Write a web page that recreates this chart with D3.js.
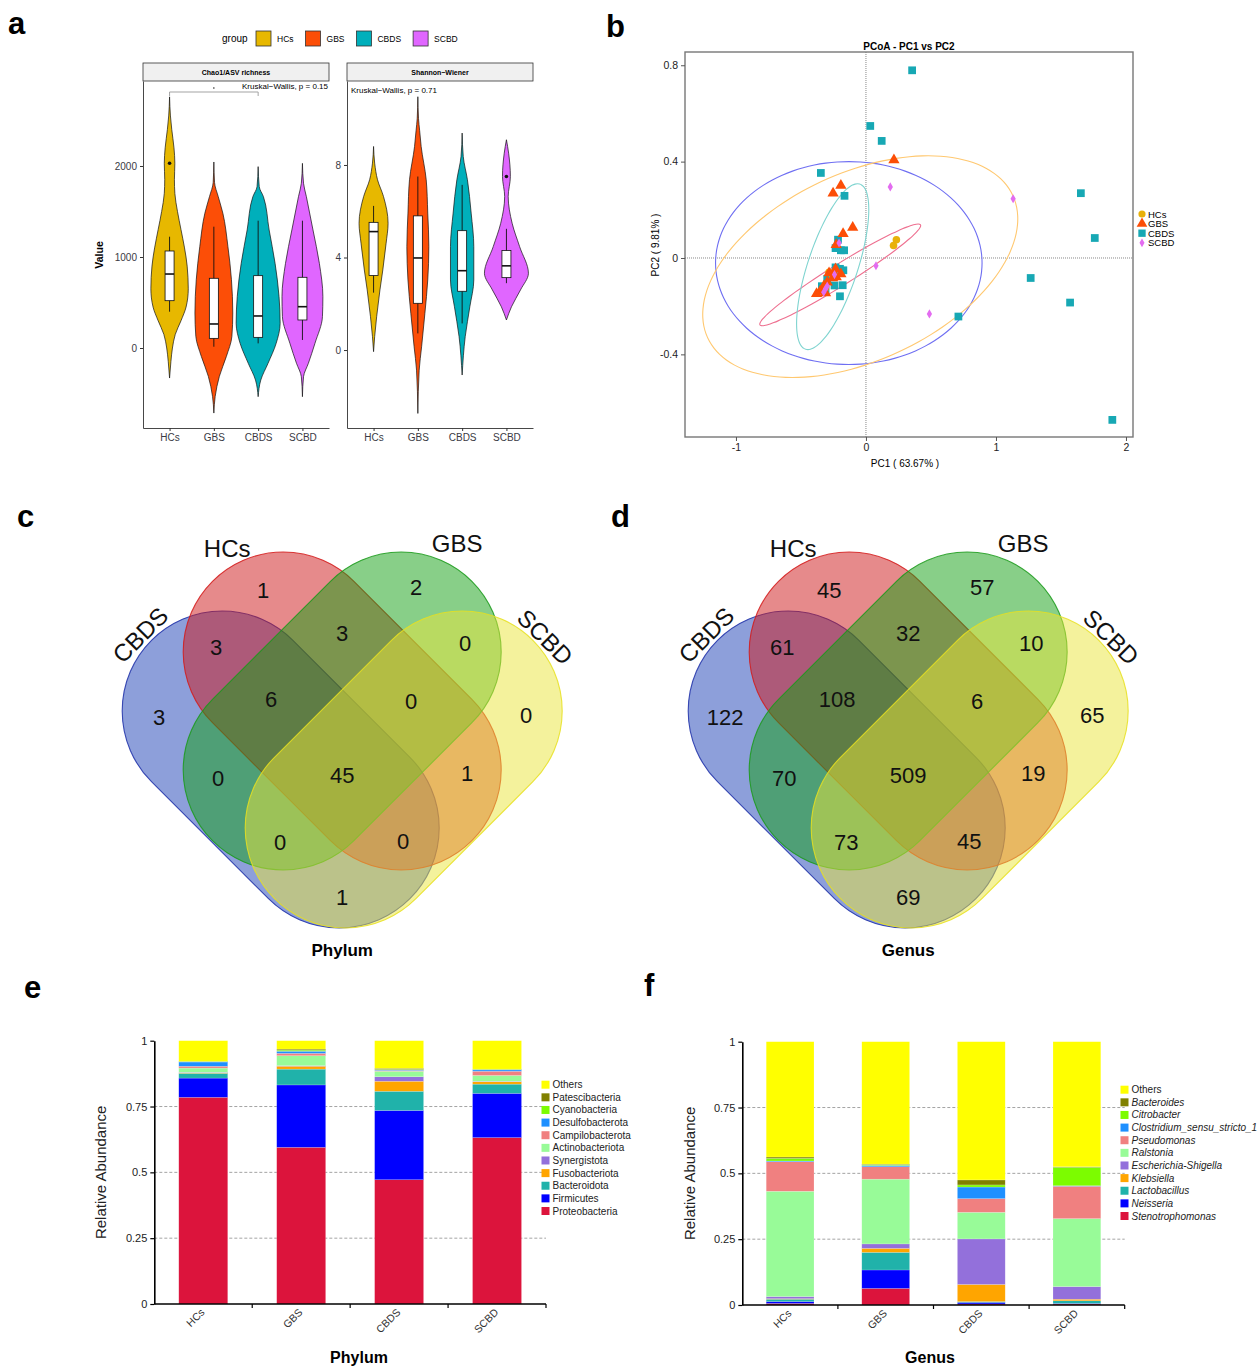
<!DOCTYPE html>
<html>
<head>
<meta charset="utf-8">
<title>Microbiota figure</title>
<script src="https://cdnjs.cloudflare.com/ajax/libs/d3/7.8.5/d3.min.js"></script>
<style>
  body { margin: 0; background: #fff; }
  text { font-family: "Liberation Sans", Arial, sans-serif; }
</style>
</head>
<body>
<script>
// ---------- data ----------
var groups = ["HCs", "GBS", "CBDS", "SCBD"];
var groupColors = ["#E7B800", "#FC4E07", "#00AFBB", "#E066FF"];

// violin outlines: [value, relative density]
var chaoHCs = [[2760,0],[2550,0.04],[2400,0.1],[2200,0.2],[2030,0.24],[1850,0.22],[1700,0.24],[1500,0.36],[1300,0.52],[1100,0.68],[900,0.8],[650,0.85],[450,0.75],[300,0.52],[150,0.26],[0,0.13],[-150,0.06],[-330,0]];
var chaoGBS = [[2044,0],[1820,0.03],[1663,0.2],[1480,0.41],[1114,0.64],[750,0.8],[385,0.86],[128,0.82],[-92,0.57],[-312,0.25],[-532,0.06],[-715,0]];
var chaoCBDS = [[1993,0],[1773,0.05],[1663,0.24],[1297,0.5],[930,0.77],[565,0.95],[272,1.0],[52,0.82],[-168,0.45],[-352,0.12],[-535,0]];
var chaoSCBD = [[2029,0],[1810,0.05],[1663,0.18],[1297,0.48],[930,0.77],[565,0.93],[345,0.91],[52,0.57],[-168,0.27],[-315,0.05],[-535,0]];
// boxes: [q1, median, q3, lower whisker, upper whisker]
var chaoBoxes = [[520,813,1066,399,1223],[106,264,766,14,1333],[117,352,795,51,1399],[308,454,777,88,1399]];
var chaoOutliers = [["HCs", 2030]];
var chaoTicks = [0, 1000, 2000];

var shanHCs = [[8.8,0],[8.08,0.05],[7.36,0.18],[6.64,0.45],[5.48,0.66],[4.62,0.57],[3.46,0.42],[2.6,0.29],[1.44,0.14],[0.58,0.05],[-0.07,0]];
var shanGBS = [[10.95,0],[10,0.03],[9.5,0.08],[8.8,0.15],[7.36,0.38],[5.92,0.45],[4.47,0.5],[3.03,0.45],[1.59,0.32],[0.14,0.17],[-0.87,0.06],[-2.74,0]];
var shanCBDS = [[9.38,0],[8.37,0.05],[7.36,0.24],[5.92,0.41],[4.47,0.53],[3.03,0.53],[1.87,0.35],[0.58,0.14],[-1.08,0]];
var shanSCBD = [[9.09,0],[8.51,0.1],[7.5,0.18],[6.64,0.08],[5.48,0.26],[4.47,0.6],[3.32,1.0],[2.6,0.64],[1.87,0.23],[1.3,0]];
var shanBoxes = [[3.22,5.12,5.52,2.48,6.23],[2.02,3.98,5.8,0.72,7.5],[2.54,3.43,5.16,1.15,7.14],[3.13,3.64,4.3,2.89,5.24]];
var shanOutliers = [["SCBD", 7.5]];
var shanTicks = [0, 4, 8];

// PCoA scores [PC1, PC2]
var pcoaHCs = [[0.234,0.076],[0.212,0.052],[-0.284,-0.059],[-0.256,-0.076],[-0.311,-0.124]];
var pcoaGBS = [[0.215,0.407],[-0.193,0.301],[-0.253,0.269],[-0.102,0.127],[-0.176,0.101],[-0.229,0.055],[-0.234,-0.046],[-0.193,-0.066],[-0.229,-0.079],[-0.284,-0.062],[-0.298,-0.101],[-0.325,-0.117],[-0.353,-0.138],[-0.38,-0.148],[-0.311,-0.145],[-0.256,-0.083]];
var pcoaCBDS = [[0.355,0.779],[0.033,0.548],[0.121,0.486],[-0.347,0.353],[-0.165,0.258],[1.653,0.269],[1.76,0.083],[1.267,-0.083],[1.57,-0.185],[0.711,-0.243],[1.895,-0.672],[-0.215,0.076],[-0.234,0.041],[-0.193,0.032],[-0.168,0.032],[-0.234,-0.039],[-0.174,-0.051],[-0.2,-0.045],[-0.242,-0.114],[-0.179,-0.113],[-0.2,-0.159],[-0.339,-0.117],[-0.298,-0.087],[-0.311,-0.131]];
var pcoaSCBD = [[0.187,0.295],[1.132,0.246],[0.077,-0.032],[0.488,-0.232],[-0.207,0.062],[-0.311,-0.128],[-0.325,-0.142],[-0.298,-0.117],[-0.242,-0.069]];
var pcoaColors = ["#E8B10A", "#FC4E07", "#17A8B4", "#E36CF0"];
// confidence ellipses: centre and two conjugate semi-axes, in PC units
var ellipseCenters = [[-0.132,-0.021],[-0.044,-0.036],[-0.198,-0.070],[-0.256,-0.036]];
var ellipseAxisU = [[1.025,0],[1.16,0.31],[0.617,0.208],[0.207,0.343]];
var ellipseAxisV = [[0,0.421],[-0.35,0.34],[-0.047,0.036],[0.185,-0.028]];
var ellipseColors = ["#6F6FF2", "#FFC870", "#EE7090", "#7FD4D0"];

// Venn (sets drawn in this order)
var vennSets = ["CBDS", "HCs", "GBS", "SCBD"];
var regionNames = ["HCs","GBS","CBDS","SCBD","HCs&CBDS","HCs&GBS","GBS&SCBD","CBDS&HCs&GBS","HCs&GBS&SCBD","CBDS&GBS","all","HCs&SCBD","CBDS&GBS&SCBD","CBDS&HCs&SCBD","CBDS&SCBD"];
var phylumCounts = [1,2,3,0,3,3,0,6,0,0,45,1,0,0,1];
var genusCounts = [45,57,122,65,61,32,10,108,6,70,509,19,73,45,69];

// stacked composition (bottom to top)
var phyla = ["Proteobacteria","Firmicutes","Bacteroidota","Fusobacteriota","Synergistota","Actinobacteriota","Campilobacterota","Desulfobacterota","Cyanobacteria","Patescibacteria","Others"];
var phylumHCs  = [0.785,0.073,0.018,0.002,0.002,0.016,0.007,0.016,0.002,0.001,0.078];
var phylumGBS  = [0.595,0.237,0.060,0.011,0.002,0.038,0.009,0.008,0.004,0.004,0.032];
var phylumCBDS = [0.472,0.263,0.073,0.038,0.017,0.021,0.003,0.002,0.002,0.004,0.105];
var phylumSCBD = [0.632,0.168,0.035,0.009,0.002,0.022,0.016,0.005,0.002,0.001,0.108];

var genera = ["Stenotrophomonas","Neisseria","Lactobacillus","Klebsiella","Escherichia-Shigella","Ralstonia","Pseudomonas","Clostridium_sensu_stricto_1","Citrobacter","Bacteroides","Others"];
var genusHCs  = [0.006,0.007,0.009,0.002,0.008,0.400,0.112,0.003,0.010,0.005,0.438];
var genusGBS  = [0.063,0.070,0.067,0.015,0.017,0.246,0.047,0.005,0.003,0.002,0.465];
var genusCBDS = [0.004,0.006,0.003,0.065,0.173,0.101,0.052,0.044,0.008,0.019,0.525];
var genusSCBD = [0.004,0.002,0.010,0.006,0.048,0.258,0.123,0.002,0.070,0.002,0.475];

var taxaColors = ["#DC143C","#0000FF","#20B2AA","#FFA500","#9370DB","#98FB98","#F08080","#1E90FF","#7CFC00","#808000","#FFFF00"];

// ---------- page ----------
var svg = d3.select("body").append("svg")
    .attr("width", 1259)
    .attr("height", 1366);
svg.append("rect").attr("width", 1259).attr("height", 1366).attr("fill", "#fff");

var letters = ["a","b","c","d","e","f"];
var letterX = [8, 606, 17, 611, 24, 644];
var letterY = [34, 37, 527, 527, 998, 996];
letters.forEach(function(l, i) {
  svg.append("text").attr("x", letterX[i]).attr("y", letterY[i])
      .attr("font-size", 31).attr("font-weight", "bold").text(l);
});

// ---------- a: violins ----------
(function() {
  var lg = svg.append("g");
  lg.append("text").attr("x", 222).attr("y", 42).attr("font-size", 10).text("group");
  var lx = 256;
  groups.forEach(function(g, i) {
    lg.append("rect").attr("x", lx).attr("y", 31).attr("width", 15).attr("height", 15)
        .attr("fill", groupColors[i]).attr("stroke", "#333").attr("stroke-width", 0.8);
    var t = lg.append("text").attr("x", lx + 21).attr("y", 41.5).attr("font-size", 8.5).text(g);
    lx += 21 + t.node().getComputedTextLength() + 12;
  });
})();

function drawFacet(x0, x1, yDomain, ticks, title, violins, boxes, outliers) {
  var top = 81, bottom = 428;
  var g = svg.append("g");
  var x = d3.scalePoint().domain(groups).range([x0, x1]).padding(0.6);
  var y = d3.scaleLinear().domain(yDomain).range([bottom, top]);
  var w = d3.scaleLinear().domain([0, 1]).range([0, 22]);

  g.append("rect").attr("x", x0).attr("y", 63).attr("width", x1 - x0).attr("height", top - 63)
      .attr("fill", "#F0F0F0").attr("stroke", "#333").attr("stroke-width", 0.8);
  g.append("text").attr("x", (x0 + x1) / 2).attr("y", 75).attr("text-anchor", "middle")
      .attr("font-size", 7).attr("font-weight", "bold").text(title);

  violins.forEach(function(v, i) {
    var cx = x(groups[i]);
    var area = d3.area()
        .y(function(d) { return y(d[0]); })
        .x0(function(d) { return cx - w(d[1]); })
        .x1(function(d) { return cx + w(d[1]); })
        .curve(d3.curveMonotoneY);
    g.append("path").attr("d", area(v)).attr("fill", groupColors[i])
        .attr("stroke", "#111").attr("stroke-width", 0.7);
  });

  boxes.forEach(function(b, i) {
    var cx = x(groups[i]);
    g.append("line").attr("x1", cx).attr("x2", cx).attr("y1", y(b[3])).attr("y2", y(b[4]))
        .attr("stroke", "#111").attr("stroke-width", 0.9);
    g.append("rect").attr("x", cx - 4.5).attr("width", 9)
        .attr("y", y(b[2])).attr("height", y(b[0]) - y(b[2]))
        .attr("fill", "#fff").attr("stroke", "#111").attr("stroke-width", 0.8);
    g.append("line").attr("x1", cx - 4.5).attr("x2", cx + 4.5).attr("y1", y(b[1])).attr("y2", y(b[1]))
        .attr("stroke", "#111").attr("stroke-width", 1.6);
  });

  outliers.forEach(function(o) {
    g.append("circle").attr("cx", x(o[0])).attr("cy", y(o[1])).attr("r", 1.8).attr("fill", "#111");
  });

  var ya = g.append("g").attr("transform", "translate(" + x0 + ",0)")
      .call(d3.axisLeft(y).tickValues(ticks).tickFormat(function(d) { return String(d); })
        .tickSize(3).tickSizeOuter(0));
  var xa = g.append("g").attr("transform", "translate(0," + bottom + ")")
      .call(d3.axisBottom(x).tickSize(3).tickSizeOuter(0));
  [ya, xa].forEach(function(a) {
    a.select(".domain").attr("stroke", "#333").attr("stroke-width", 0.9);
    a.selectAll(".tick line").attr("stroke", "#333");
    a.selectAll(".tick text").attr("fill", "#3a3a44").attr("font-size", 10)
        .attr("font-family", "Liberation Sans, Arial, sans-serif");
  });
  return { x: x, y: y };
}

var fa = drawFacet(143, 329, [-879, 2934], chaoTicks, "Chao1/ASV richness",
    [chaoHCs, chaoGBS, chaoCBDS, chaoSCBD], chaoBoxes, chaoOutliers);
var fb = drawFacet(347, 533, [-3.37, 11.63], shanTicks, "Shannon\u2212Wiener",
    [shanHCs, shanGBS, shanCBDS, shanSCBD], shanBoxes, shanOutliers);

svg.append("text").attr("transform", "translate(103,255) rotate(-90)").attr("text-anchor", "middle")
    .attr("font-size", 10.5).attr("font-weight", "bold").text("Value");
svg.append("text").attr("x", 328).attr("y", 89).attr("text-anchor", "end").attr("font-size", 8)
    .text("Kruskal\u2212Wallis, p = 0.15");
svg.append("text").attr("x", 351).attr("y", 93).attr("font-size", 8)
    .text("Kruskal\u2212Wallis, p = 0.71");
svg.append("path")
    .attr("d", "M" + fa.x("HCs") + ",96V92H" + fa.x("CBDS") + "V96")
    .attr("fill", "none").attr("stroke", "#999").attr("stroke-width", 0.9);
svg.append("circle").attr("cx", (fa.x("HCs") + fa.x("CBDS")) / 2).attr("cy", 88).attr("r", 0.8).attr("fill", "#222");

// ---------- b: PCoA ----------
(function() {
  var left = 685, right = 1133, top = 52, bottom = 437;
  var px = d3.scaleLinear().domain([-1.392, 2.054]).range([left, right]);
  var py = d3.scaleLinear().domain([-0.743, 0.855]).range([bottom, top]);
  var g = svg.append("g");

  g.append("line").attr("x1", px(0)).attr("x2", px(0)).attr("y1", top).attr("y2", bottom)
      .attr("stroke", "#888").attr("stroke-dasharray", "1,1");
  g.append("line").attr("x1", left).attr("x2", right).attr("y1", py(0)).attr("y2", py(0))
      .attr("stroke", "#888").attr("stroke-dasharray", "1,1");

  var line = d3.line().x(function(d) { return px(d[0]); }).y(function(d) { return py(d[1]); })
      .curve(d3.curveCardinalClosed);
  ellipseCenters.forEach(function(c, i) {
    var u = ellipseAxisU[i], v = ellipseAxisV[i];
    var pts = d3.range(72).map(function(k) {
      var t = k / 72 * 2 * Math.PI;
      return [c[0] + u[0] * Math.cos(t) + v[0] * Math.sin(t), c[1] + u[1] * Math.cos(t) + v[1] * Math.sin(t)];
    });
    g.append("path").attr("d", line(pts)).attr("fill", "none")
        .attr("stroke", ellipseColors[i]).attr("stroke-width", 1.1);
  });

  var symbols = [d3.symbolCircle, d3.symbolTriangle, d3.symbolSquare, d3.symbolDiamond];
  var sizes = [45, 55, 60, 24];
  var sets = [pcoaHCs, pcoaGBS, pcoaCBDS, pcoaSCBD];
  [2, 0, 1, 3].forEach(function(i) {
    g.selectAll(null).data(sets[i]).enter().append("path")
        .attr("transform", function(d) { return "translate(" + px(d[0]) + "," + py(d[1]) + ")"; })
        .attr("d", d3.symbol().type(symbols[i]).size(sizes[i]))
        .attr("fill", pcoaColors[i]);
  });

  g.append("rect").attr("x", left).attr("y", top).attr("width", right - left).attr("height", bottom - top)
      .attr("fill", "none").attr("stroke", "#777").attr("stroke-width", 1.4);

  var ya = g.append("g").attr("transform", "translate(" + left + ",0)")
      .call(d3.axisLeft(py).tickValues([-0.4, 0, 0.4, 0.8]).tickFormat(function(d) { return String(d); }).tickSize(4).tickSizeOuter(0));
  var xa = g.append("g").attr("transform", "translate(0," + bottom + ")")
      .call(d3.axisBottom(px).tickValues([-1, 0, 1, 2]).tickFormat(function(d) { return String(d); }).tickSize(4).tickSizeOuter(0));
  [ya, xa].forEach(function(a) {
    a.select(".domain").remove();
    a.selectAll(".tick line").attr("stroke", "#555");
    a.selectAll(".tick text").attr("fill", "#222").attr("font-size", 10.5)
        .attr("font-family", "Liberation Sans, Arial, sans-serif");
  });

  g.append("text").attr("x", 909).attr("y", 50).attr("text-anchor", "middle")
      .attr("font-size", 10).attr("font-weight", "bold").text("PCoA - PC1 vs PC2");
  g.append("text").attr("x", 905).attr("y", 467).attr("text-anchor", "middle")
      .attr("font-size", 10).text("PC1 ( 63.67% )");
  g.append("text").attr("transform", "translate(659,245) rotate(-90)").attr("text-anchor", "middle")
      .attr("font-size", 10).text("PC2 ( 9.81% )");

  groups.forEach(function(name, i) {
    var ly = 214 + i * 9.6;
    g.append("path").attr("transform", "translate(1142," + ly + ")")
        .attr("d", d3.symbol().type(symbols[i]).size(sizes[i] * 0.9)).attr("fill", pcoaColors[i]);
    g.append("text").attr("x", 1148).attr("y", ly + 3.5).attr("font-size", 9.5).text(name);
  });
})();

// ---------- c, d: Venn ----------
var vennFill = ["#1B3FB5", "#CD1517", "#119F11", "#E9E639"];
var vennStroke = ["#1D2FA8", "#D41A1A", "#1A9A1A", "#E8E020"];
var capStart = [[-1.2, 0], [-0.59, -0.59], [0.59, -0.59], [1.2, 0]];
var capEnd = [[-0.03, 1.17], [0.59, 0.59], [-0.59, 0.59], [0.03, 1.17]];
var labelU = [-0.79, 0.74, -1.83, 1.84, -1.26, 0, 1.23, -0.71, 0.69, -1.24, 0, 1.25, -0.62, 0.61, 0];
var labelV = [-1.21, -1.24, 0.06, 0.04, -0.64, -0.78, -0.68, -0.12, -0.10, 0.67, 0.64, 0.62, 1.31, 1.30, 1.86];
var setLabelU = [-2.02, -1.15, 1.15, 2.03];
var setLabelV = [-0.76, -1.63, -1.68, -0.74];
var setLabelRot = [-45, 0, 0, 45];

function drawVenn(cx, cy, counts, title) {
  var u = d3.scaleLinear().domain([0, 1]).range([cx, cx + 100]);
  var v = d3.scaleLinear().domain([0, 1]).range([cy, cy + 100]);
  var r = u(1) - u(0);
  var g = svg.append("g");
  function capsule(a, b) {
    var x1 = u(a[0]), y1 = v(a[1]), x2 = u(b[0]), y2 = v(b[1]);
    var len = Math.hypot(x2 - x1, y2 - y1);
    var nx = -(y2 - y1) / len * r, ny = (x2 - x1) / len * r;
    return "M" + (x1 + nx) + "," + (y1 + ny) + "L" + (x2 + nx) + "," + (y2 + ny) +
        "A" + r + "," + r + " 0 0 0 " + (x2 - nx) + "," + (y2 - ny) +
        "L" + (x1 - nx) + "," + (y1 - ny) +
        "A" + r + "," + r + " 0 0 0 " + (x1 + nx) + "," + (y1 + ny) + "Z";
  }
  // fill and outline together, so later sets tint the earlier outlines
  vennSets.forEach(function(s, i) {
    g.append("path").attr("d", capsule(capStart[i], capEnd[i]))
        .attr("fill", vennFill[i]).attr("fill-opacity", 0.5)
        .attr("stroke", vennStroke[i]).attr("stroke-opacity", 0.85).attr("stroke-width", 1.1);
  });
  counts.forEach(function(c, i) {
    g.append("text").attr("x", u(labelU[i])).attr("y", v(labelV[i]))
        .attr("text-anchor", "middle").attr("dominant-baseline", "central")
        .attr("font-size", 22).attr("fill", "#111").text(c);
  });
  vennSets.forEach(function(s, i) {
    g.append("text")
        .attr("transform", "translate(" + u(setLabelU[i]) + "," + v(setLabelV[i]) + ") rotate(" + setLabelRot[i] + ")")
        .attr("text-anchor", "middle").attr("dominant-baseline", "central")
        .attr("font-size", 24).attr("fill", "#111").text(s);
  });
  g.append("text").attr("x", u(0)).attr("y", v(2.39)).attr("text-anchor", "middle")
      .attr("dominant-baseline", "central").attr("font-size", 17).attr("font-weight", "bold").text(title);
}
drawVenn(342.2, 711, phylumCounts, "Phylum");
drawVenn(908.2, 711, genusCounts, "Genus");

// ---------- e, f: stacked bars ----------
function drawStack(x0, x1, yBottom, yTop, taxa, rows, legendX, legendY, italic, title, titleX, yTitleX) {
  var g = svg.append("g");
  var x = d3.scaleBand().domain(groups).range([x0, x1]);
  var y = d3.scaleLinear().domain([0, 1]).range([yBottom, yTop]);
  var data = groups.map(function(name, i) {
    var o = { group: name };
    taxa.forEach(function(t, j) { o[t] = rows[i][j]; });
    return o;
  });
  var series = d3.stack().keys(taxa)(data);

  g.selectAll(null).data([0.25, 0.5, 0.75]).enter().append("line")
      .attr("x1", x0).attr("x2", x1).attr("y1", y).attr("y2", y)
      .attr("stroke", "#9a9a9a").attr("stroke-width", 0.9).attr("stroke-dasharray", "3,2");

  var bw = x.bandwidth() * 0.5;
  series.forEach(function(s, j) {
    g.selectAll(null).data(s).enter().append("rect")
        .attr("x", function(d) { return x(d.data.group) + (x.bandwidth() - bw) / 2; })
        .attr("width", bw)
        .attr("y", function(d) { return y(d[1]); })
        .attr("height", function(d) { return y(d[0]) - y(d[1]); })
        .attr("fill", taxaColors[j])
        .attr("stroke", "#fff").attr("stroke-opacity", 0.35).attr("stroke-width", 0.5);
  });

  var ya = g.append("g").attr("transform", "translate(" + x0 + ",0)")
      .call(d3.axisLeft(y).tickValues([0, 0.25, 0.5, 0.75, 1]).tickFormat(function(d) { return String(d); })
        .tickSize(4).tickSizeOuter(0));
  ya.select(".domain").attr("stroke", "#000").attr("stroke-width", 1.6);
  ya.selectAll(".tick line").attr("stroke", "#000").attr("stroke-width", 1.2);
  ya.selectAll(".tick text").attr("fill", "#222").attr("font-size", 11)
      .attr("font-family", "Liberation Sans, Arial, sans-serif");

  g.append("line").attr("x1", x0).attr("x2", x1).attr("y1", yBottom).attr("y2", yBottom)
      .attr("stroke", "#000").attr("stroke-width", 1.6);
  groups.forEach(function(name) {
    var bx = x(name) + x.bandwidth();
    g.append("line").attr("x1", bx).attr("x2", bx).attr("y1", yBottom).attr("y2", yBottom + 4)
        .attr("stroke", "#000").attr("stroke-width", 1.2);
    var cx = x(name) + x.bandwidth() / 2 + 2;
    g.append("text").attr("transform", "translate(" + cx + "," + (yBottom + 9) + ") rotate(-45)")
        .attr("text-anchor", "end").attr("font-size", 10.5).attr("fill", "#333").text(name);
  });

  g.append("text").attr("transform", "translate(" + yTitleX + "," + ((yTop + yBottom) / 2) + ") rotate(-90)")
      .attr("text-anchor", "middle").attr("font-size", 15).attr("fill", "#222").text("Relative Abundance");
  g.append("text").attr("x", titleX).attr("y", 1363).attr("text-anchor", "middle")
      .attr("font-size", 16).attr("font-weight", "bold").text(title);

  var order = d3.range(taxa.length).reverse();
  order.forEach(function(j, k) {
    var ly = legendY + k * 12.63;
    g.append("rect").attr("x", legendX).attr("y", ly - 4).attr("width", 8).attr("height", 8)
        .attr("fill", taxaColors[j]);
    g.append("text").attr("x", legendX + 11).attr("y", ly + 3.5).attr("font-size", 10)
        .attr("fill", "#222")
        .attr("font-style", italic && taxa[j] !== "Others" ? "italic" : "normal")
        .text(taxa[j]);
  });
}
drawStack(154.3, 546, 1304, 1040.7, phyla, [phylumHCs, phylumGBS, phylumCBDS, phylumSCBD],
    541.5, 1084.7, false, "Phylum", 359, 106);
drawStack(742.3, 1124.7, 1305, 1041.7, genera, [genusHCs, genusGBS, genusCBDS, genusSCBD],
    1120.5, 1089.7, true, "Genus", 930, 695);
</script>
</body>
</html>
